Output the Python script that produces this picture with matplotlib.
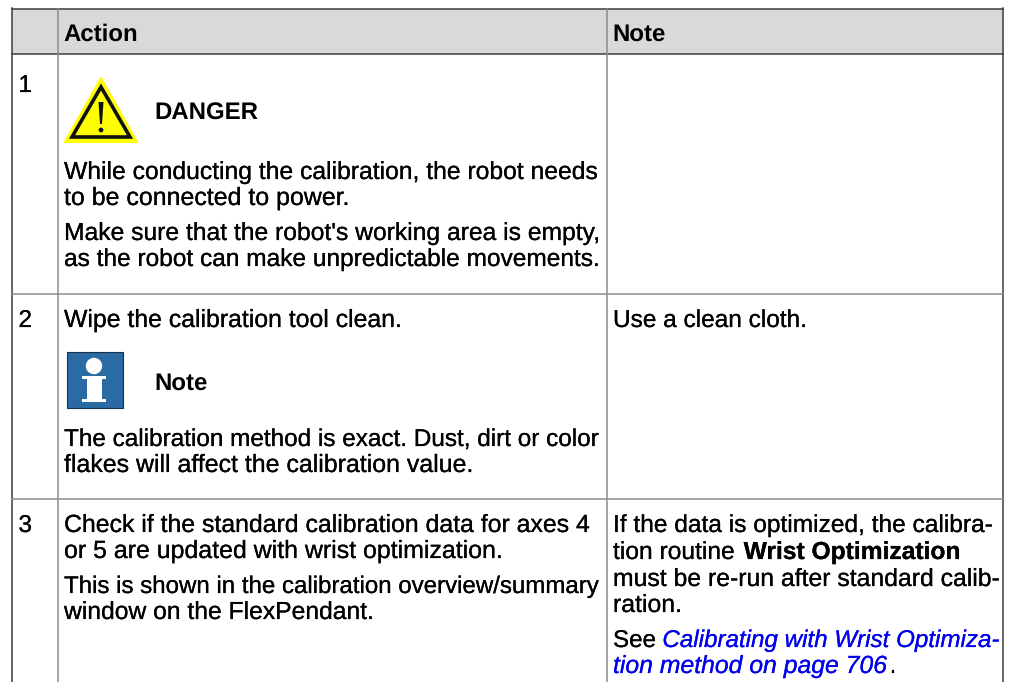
import matplotlib
matplotlib.use("Agg")
import matplotlib.pyplot as plt
import matplotlib.patheffects as pe
from matplotlib.patches import Polygon, Rectangle, Circle

plt.rcParams['font.family'] = ['Liberation Sans', 'DejaVu Sans']
plt.rcParams['text.hinting'] = 'no_hinting'
plt.rcParams['text.hinting_factor'] = 1

W, H = 1009, 682
FS = 17.5
BLUE = '#0000ee'
FIT = 0.987

header_labels = ["Action", "Note"]
step_labels = ["1", "2", "3"]
danger_label = "DANGER"
note_label = "Note"
action_lines = [
    "While conducting the calibration, the robot needs",
    "to be connected to power.",
    "Make sure that the robot's working area is empty,",
    "as the robot can make unpredictable movements.",
    "Wipe the calibration tool clean.",
    "The calibration method is exact. Dust, dirt or color",
    "flakes will affect the calibration value.",
    "Check if the standard calibration data for axes 4",
    "or 5 are updated with wrist optimization.",
    "This is shown in the calibration overview/summary",
    "window on the FlexPendant.",
]
action_baselines = [179, 205, 240, 266, 327, 446, 472, 532, 558, 593, 619]
action_right_edges = [598, 350, 600, 600, 402, 599, 474, 590, 503, 599, 374]
note_runs = [
    [("Use a clean cloth.", 'normal', 'normal', 'black')],
    [("If the data is optimized, the calibra-", 'normal', 'normal', 'black')],
    [("tion routine ", 'normal', 'normal', 'black'), ("Wrist Optimization", 'bold', 'normal', 'black')],
    [("must be re-run after standard calib-", 'normal', 'normal', 'black')],
    [("ration.", 'normal', 'normal', 'black')],
    [("See ", 'normal', 'normal', 'black'), ("Calibrating with Wrist Optimiza-", 'normal', 'italic', BLUE)],
    [("tion method on page 706", 'normal', 'italic', BLUE), (".", 'normal', 'normal', 'black')],
]
note_baselines = [327, 532, 559, 586, 612, 647, 673]
note_right_edges = [807, 993, 959, 1000, 682, 1000, 894]

fig = plt.figure(figsize=(W / 100, H / 100), dpi=100)
ax = fig.add_axes([0, 0, 1, 1])
ax.set_xlim(0, W)
ax.set_ylim(H, 0)
ax.axis('off')

# table frame
ax.add_patch(Rectangle((12, 9), 991, 45, fc='#d9d9d9', ec='none', zorder=0))
DARK, GREY = '#3c3c3c', '#8c8c8c'
for x in (12, 1003):
    ax.plot([x, x], [8, H], color=DARK, lw=1.1)
ax.plot([12, 1003], [8.5, 8.5], color=DARK, lw=1.1)
ax.plot([12, 1003], [54, 54], color=DARK, lw=1.1)
for x in (57.5, 606.5):
    ax.plot([x, x], [9, H], color=GREY, lw=1.1)
for y in (293.5, 498.5):
    ax.plot([12, 1003], [y, y], color=GREY, lw=1.1)

# header
ax.text(63.5, 41, header_labels[0], fontsize=FS, fontweight='bold', va='baseline')
ax.text(612.5, 41, header_labels[1], fontsize=FS, fontweight='bold', va='baseline')

# step numbers
for lab, y in zip(step_labels, (92, 327, 532)):
    ax.text(18.5, y, lab, fontsize=FS, va='baseline',
            path_effects=[pe.withStroke(linewidth=0.15, foreground='black')])

# danger icon
ax.add_patch(Polygon([(101, 78), (137, 142), (65, 142)], closed=True, fc='#ffff00', ec='#ffff00', lw=1.5, joinstyle='round'))
ax.add_patch(Polygon([(101, 87), (130, 137), (72, 137)], closed=True, fc='#ffff00', ec='#111111', lw=2.6, joinstyle='miter'))
ax.add_patch(Polygon([(98.5, 102), (103.5, 102), (102, 124), (100, 124)], closed=True, fc='#111111', ec='none'))
ax.add_patch(Circle((101, 130), 2.4, fc='#111111', ec='none'))
ax.text(154.5, 120, danger_label, fontsize=FS, fontweight='bold', va='baseline')

# note icon
ax.add_patch(Rectangle((66.5, 351.5), 56, 56, fc='#2a6ba3', ec='#16324c', lw=0.8))
ax.add_patch(Circle((94, 366), 8.2, fc='white', ec='none'))
ax.add_patch(Rectangle((82, 376), 24, 2.5, fc='white', ec='none'))
ax.add_patch(Rectangle((87, 376), 15, 25, fc='white', ec='none'))
ax.add_patch(Rectangle((82, 399), 24, 2.5, fc='white', ec='none'))
ax.text(154.5, 390, note_label, fontsize=FS, fontweight='bold', va='baseline')

fig.canvas.draw()
rend = fig.canvas.get_renderer()


def draw_runs(runs, x0, y, right):
    """Draw a line of styled runs, scaling the size so it ends at the given right edge."""
    def measure(size):
        total = 0
        for s, weight, style, _ in runs:
            t = ax.text(0, 0, s.replace(' ', '\u00a0'), fontsize=size, fontweight=weight, fontstyle=style)
            total += t.get_window_extent(rend).width
            t.remove()
        return total
    size = FS * FIT * (right - x0) / measure(FS)
    x = x0
    for s, weight, style, col in runs:
        t = ax.text(x, y, s.replace(' ', '\u00a0'), fontsize=size, fontweight=weight, fontstyle=style,
                    color=col, va='baseline', path_effects=[pe.withStroke(linewidth=0.15, foreground=col)])
        x += t.get_window_extent(rend).width


# action column
for line, y, r in zip(action_lines, action_baselines, action_right_edges):
    draw_runs([(line, 'normal', 'normal', 'black')], 64, y, r)

# note column
for runs, y, r in zip(note_runs, note_baselines, note_right_edges):
    draw_runs(runs, 613, y, r)

fig.savefig('out.png', dpi=100)
